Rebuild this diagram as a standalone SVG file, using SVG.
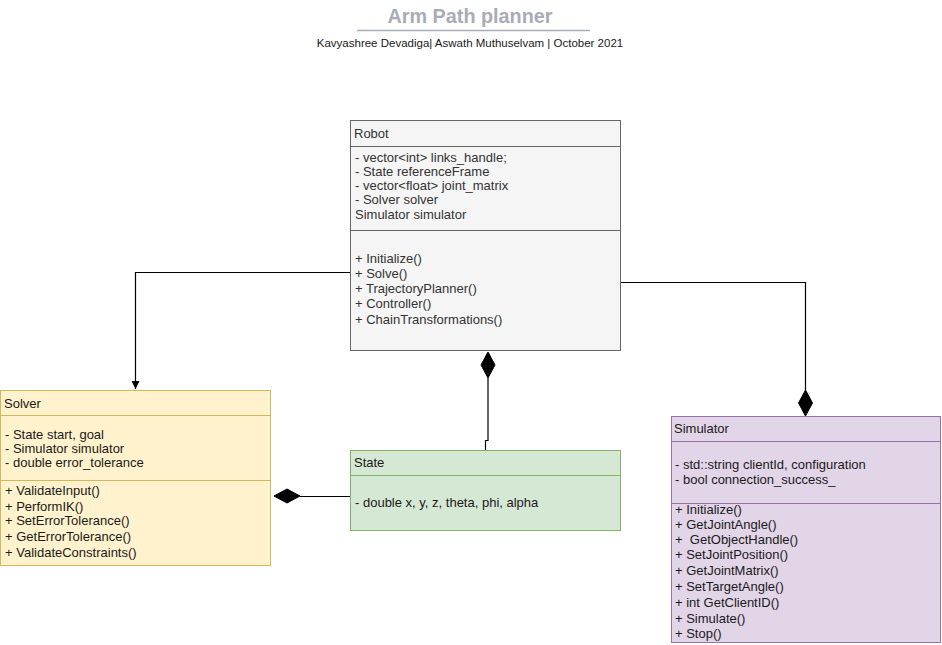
<svg xmlns="http://www.w3.org/2000/svg" width="942" height="645" viewBox="0 0 942 645">
<defs>
<style>
text{font-family:"Liberation Sans",Arial,Helvetica,sans-serif;font-size:13px;fill:#333333}
.t{fill:#1a1a1a}
.conn{fill:none;stroke:#000;stroke-width:1.2}
.dia{fill:#000;stroke:#000}
</style>
<marker id="arr" viewBox="0 0 10 10" refX="10" refY="5" markerWidth="8" markerHeight="8" orient="auto" markerUnits="userSpaceOnUse">
<path d="M0,0 L10,5 L0,10 z" fill="#000"/>
</marker>
</defs>
<rect width="942" height="645" fill="#ffffff"/>
<g id="title">
<text x="470" y="23" text-anchor="middle" style="font-size:19.8px;font-weight:bold;fill:#A9ACB6">Arm Path planner</text>
<line x1="357" y1="30.5" x2="590" y2="30.5" stroke="#A9ACB6" stroke-width="1.5"/>
<text x="470" y="47" text-anchor="middle" style="font-size:11.5px;fill:#1a1a1a">Kavyashree Devadiga| Aswath Muthuselvam | October 2021</text>
</g>
<g id="connectors">
<path class="conn" d="M350,272.5 H135.5 V389" marker-end="url(#arr)"/>
<path class="conn" d="M485.5,450 V440.5 H488 V378"/>
<path class="dia" d="M488,352 L495,365 L488,378 L481,365 z"/>
<path class="conn" d="M621,282.5 H805.5 V390"/>
<path class="dia" d="M805.5,390 L812.5,403 L805.5,416 L798.5,403 z"/>
<path class="conn" d="M350,496.5 H300"/>
<path class="dia" d="M274,496 L287,489 L300,496 L287,503 z"/>
</g>
<g id="robot">
<rect x="350.5" y="120.5" width="270" height="230" fill="#f5f5f5" stroke="#666666"/>
<line x1="350.5" y1="146.5" x2="620.5" y2="146.5" stroke="#666666"/>
<line x1="350.5" y1="230.5" x2="620.5" y2="230.5" stroke="#666666"/>
<text x="354" y="138">Robot</text>
<text x="355" y="162">- vector&lt;int&gt; links_handle;</text>
<text x="355" y="176">- State referenceFrame</text>
<text x="355" y="190">- vector&lt;float&gt; joint_matrix</text>
<text x="355" y="204">- Solver solver</text>
<text x="355" y="219">Simulator simulator</text>
<text x="355" y="263">+ Initialize()</text>
<text x="355" y="278">+ Solve()</text>
<text x="355" y="293">+ TrajectoryPlanner()</text>
<text x="355" y="308">+ Controller()</text>
<text x="355" y="324">+ ChainTransformations()</text>
</g>
<g id="solver">
<rect x="0.5" y="390.5" width="270" height="175" fill="#fff2cc" stroke="#d6b656"/>
<line x1="0.5" y1="415.5" x2="270.5" y2="415.5" stroke="#d6b656"/>
<line x1="0.5" y1="480.5" x2="270.5" y2="480.5" stroke="#d6b656"/>
<text class="t" x="4" y="408">Solver</text>
<text class="t" x="5" y="439">- State start, goal</text>
<text class="t" x="5" y="453">- Simulator simulator</text>
<text class="t" x="5" y="467">- double error_tolerance</text>
<text class="t" x="5" y="495">+ ValidateInput()</text>
<text class="t" x="5" y="511">+ PerformIK()</text>
<text class="t" x="5" y="525">+ SetErrorTolerance()</text>
<text class="t" x="5" y="541">+ GetErrorTolerance()</text>
<text class="t" x="5" y="557">+ ValidateConstraints()</text>
</g>
<g id="state">
<rect x="350.5" y="450.5" width="270" height="80" fill="#d5e8d4" stroke="#82b366"/>
<line x1="350.5" y1="475.5" x2="620.5" y2="475.5" stroke="#82b366"/>
<text class="t" x="354" y="467">State</text>
<text class="t" x="355" y="507">- double x, y, z, theta, phi, alpha</text>
</g>
<g id="simulator">
<rect x="671.5" y="416.5" width="269" height="226" fill="#e1d5e7" stroke="#9673a6"/>
<line x1="671.5" y1="441.5" x2="940.5" y2="441.5" stroke="#9673a6"/>
<line x1="671.5" y1="503.5" x2="940.5" y2="503.5" stroke="#9673a6"/>
<text class="t" x="674" y="433">Simulator</text>
<text class="t" x="675" y="469">- std::string clientId, configuration</text>
<text class="t" x="675" y="484">- bool connection_success_</text>
<text class="t" x="675" y="514">+ Initialize()</text>
<text class="t" x="675" y="529">+ GetJointAngle()</text>
<text class="t" x="675" y="544" xml:space="preserve">+  GetObjectHandle()</text>
<text class="t" x="675" y="559">+ SetJointPosition()</text>
<text class="t" x="675" y="575">+ GetJointMatrix()</text>
<text class="t" x="675" y="591">+ SetTargetAngle()</text>
<text class="t" x="675" y="607">+ int GetClientID()</text>
<text class="t" x="675" y="623">+ Simulate()</text>
<text class="t" x="675" y="638">+ Stop()</text>
</g>
</svg>
